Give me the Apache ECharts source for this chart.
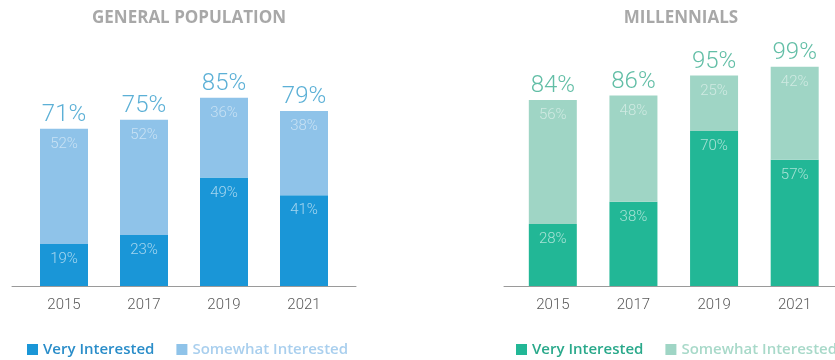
<!DOCTYPE html>
<html>
<head>
<meta charset="utf-8">
<script src="https://cdn.jsdelivr.net/npm/echarts@6/dist/echarts.min.js"></script>
<style>
  html, body { margin: 0; padding: 0; background: #ffffff; }
  #chart { width: 835px; height: 360px; }
</style>
</head>
<body>
<div id="chart"></div>
<script>
// Survey years shown on both panels
const years = ['2015', '2017', '2019', '2021'];

// General population: share of respondents (%)
const generalVery = [19, 23, 49, 41];
const generalSomewhat = [52, 52, 36, 38];

// Millennials: share of respondents (%)
const millennialVery = [28, 38, 70, 57];
const millennialSomewhat = [56, 48, 25, 42];

const panelTitles = ['GENERAL POPULATION', 'MILLENNIALS'];
const seriesNames = ['Very Interested', 'Somewhat Interested'];

const palette = {
  general: { very: '#1a96d7', some: '#8fc3e9', total: '#5cb0d6', veryText: '#2a8dc9', someText: '#a9cfee' },
  millennial: { very: '#22b796', some: '#9fd5c5', total: '#62bea6', veryText: '#2aa98b', someText: '#a8d9c9' }
};

const numFont = 'Roboto, "Open Sans", sans-serif';

function panelSeries(axisIndex, very, some, colors) {
  const stackId = 'panel' + axisIndex;
  const insideLabel = alpha => ({
    show: true,
    position: 'insideTop',
    distance: 8,
    color: 'rgba(255,255,255,' + alpha + ')',
    fontFamily: numFont,
    fontWeight: 300,
    fontSize: 15,
    formatter: p => p.value + '%'
  });
  return [
    {
      name: seriesNames[0],
      type: 'bar',
      stack: stackId,
      xAxisIndex: axisIndex,
      yAxisIndex: axisIndex,
      barWidth: 48,
      data: very,
      itemStyle: { color: colors.very },
      label: insideLabel(0.6)
    },
    {
      name: seriesNames[1],
      type: 'bar',
      stack: stackId,
      xAxisIndex: axisIndex,
      yAxisIndex: axisIndex,
      barWidth: 48,
      data: some,
      itemStyle: { color: colors.some },
      label: insideLabel(0.5)
    },
    {
      // Zero-height cap carrying the overall total above each column
      name: seriesNames[1],
      type: 'bar',
      stack: stackId,
      xAxisIndex: axisIndex,
      yAxisIndex: axisIndex,
      barWidth: 48,
      silent: true,
      data: years.map(() => 0),
      itemStyle: { color: 'rgba(0,0,0,0)' },
      label: {
        show: true,
        position: 'top',
        distance: 2,
        color: colors.total,
        fontFamily: numFont,
        fontWeight: 300,
        fontSize: 24,
        formatter: p => (very[p.dataIndex] + some[p.dataIndex]) + '%'
      }
    }
  ];
}

function categoryAxis(gridIndex) {
  return {
    type: 'category',
    gridIndex: gridIndex,
    data: years,
    axisLine: { show: false },
    axisTick: { show: false },
    axisLabel: {
      color: '#5a5a5a',
      fontFamily: numFont,
      fontWeight: 300,
      fontSize: 15,
      margin: 12
    }
  };
}

// Plain baseline running a little wider than the columns
function baselineAxis(gridIndex) {
  return {
    type: 'value',
    gridIndex: gridIndex,
    min: 0,
    max: 1,
    axisLine: { show: true, onZero: false, lineStyle: { color: '#9a9a9a', width: 1 } },
    axisTick: { show: false },
    axisLabel: { show: false },
    splitLine: { show: false }
  };
}

function yAxisFor(gridIndex) {
  return {
    type: 'value',
    gridIndex: gridIndex,
    min: 0,
    max: 100,
    show: false,
    splitLine: { show: false }
  };
}

function legendFor(left, colors) {
  return {
    left: left,
    top: 337,
    width: 500,
    itemWidth: 11,
    itemHeight: 11,
    itemGap: 22,
    icon: 'rect',
    selectedMode: false,
    textStyle: { fontFamily: '"Open Sans", sans-serif', fontSize: 15, fontWeight: 600 },
    data: [
      { name: seriesNames[0], itemStyle: { color: colors.very }, textStyle: { color: colors.veryText } },
      { name: seriesNames[1], itemStyle: { color: colors.some }, textStyle: { color: colors.someText } }
    ]
  };
}

const titleStyle = { fontFamily: '"Open Sans", sans-serif', fontSize: 17, fontWeight: 'bold', color: '#a8a8a8' };

const chart = echarts.init(document.getElementById('chart'), null, { renderer: 'canvas' });

chart.setOption({
  backgroundColor: '#ffffff',
  animation: false,
  title: [
    { text: panelTitles[0], left: 184, top: 5, textAlign: 'center', textStyle: titleStyle },
    { text: panelTitles[1], left: 676, top: 5, textAlign: 'center', textStyle: titleStyle }
  ],
  legend: [legendFor(22, palette.general), legendFor(511, palette.millennial)],
  grid: [
    { left: 24, width: 320, top: 64.5, height: 221.5 },
    { left: 512.5, width: 328, top: 64.5, height: 221.5 },
    { left: 12, width: 344, top: 64.5, height: 221.5 },
    { left: 504, width: 360, top: 64.5, height: 221.5 }
  ],
  xAxis: [categoryAxis(0), categoryAxis(1), baselineAxis(2), baselineAxis(3)],
  yAxis: [yAxisFor(0), yAxisFor(1), yAxisFor(2), yAxisFor(3)],
  series: [
    ...panelSeries(0, generalVery, generalSomewhat, palette.general),
    ...panelSeries(1, millennialVery, millennialSomewhat, palette.millennial)
  ]
});
</script>
</body>
</html>
